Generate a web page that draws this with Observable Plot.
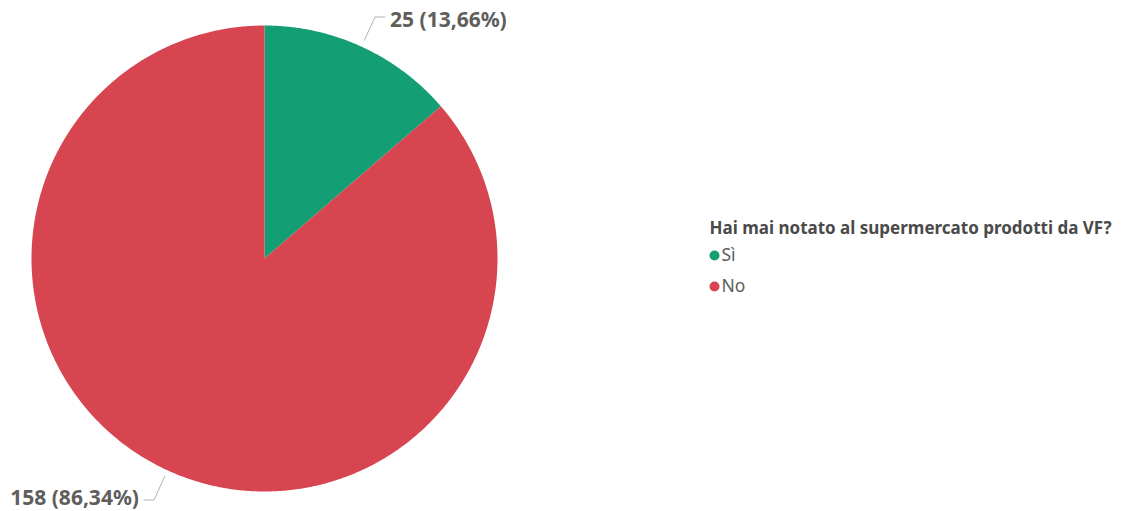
<!DOCTYPE html>
<html>
<head>
<meta charset="utf-8">
<script src="https://cdn.jsdelivr.net/npm/d3@7"></script>
<script src="https://cdn.jsdelivr.net/npm/@observablehq/plot@0.6"></script>
<style>
  html, body { margin: 0; padding: 0; background: #ffffff; }
  #chart { width: 1122px; height: 511px; }
</style>
</head>
<body>
<div id="chart"></div>
<script>
// ---- data ----
const categories = ["Sì", "No"];
const counts = [25, 158];
const colors = ["#139E73", "#D64550"];
const legendTitle = "Hai mai notato al supermercato prodotti da VF?";

// ---- derived ----
const total = d3.sum(counts);
const rows = categories.map((c, i) => ({ cat: c, value: counts[i] }));
const arcs = d3.pie().sort(null).value(d => d.value)(rows);

const fmtPct = v => (v * 100).toFixed(2).replace(".", ",") + "%";

// slice outlines (unit radius, angle 0 at top, clockwise)
const slicePts = [];
arcs.forEach(a => {
  const n = Math.max(2, Math.ceil((a.endAngle - a.startAngle) / (Math.PI / 360)));
  slicePts.push({ cat: a.data.cat, x: 0, y: 0 });
  for (let i = 0; i <= n; i++) {
    const t = a.startAngle + (i / n) * (a.endAngle - a.startAngle);
    slicePts.push({ cat: a.data.cat, x: Math.sin(t), y: Math.cos(t) });
  }
  slicePts.push({ cat: a.data.cat, x: 0, y: 0 });
});

// leader lines and labels
const R = 233; // pixel radius, used to convert the horizontal stub length
const leaderPts = [];
const labels = [];
arcs.forEach(a => {
  const m = (a.startAngle + a.endAngle) / 2;
  const side = Math.sin(m) >= 0 ? 1 : -1;
  const p1 = { x: 1.03 * Math.sin(m), y: 1.03 * Math.cos(m) };
  const p2 = { x: 1.14 * Math.sin(m), y: 1.14 * Math.cos(m) };
  const p3 = { x: p2.x + side * 10 / R, y: p2.y };
  [p1, p2, p3].forEach(p => leaderPts.push({ cat: a.data.cat, ...p }));
  labels.push({
    cat: a.data.cat,
    x: p3.x, y: p3.y, side,
    text: `${a.data.value} (${fmtPct(a.data.value / total)})`
  });
});

const font = "'Noto Sans', 'Open Sans', sans-serif";

const legendMarks = categories.map((c, i) => [
  Plot.dot([c], { frameAnchor: "top-left", dx: 714, dy: 255 + i * 31, fill: d => d, r: 5, stroke: "none" }),
  Plot.text([c], { frameAnchor: "top-left", dx: 721, dy: 255 + i * 31, text: d => d,
    textAnchor: "start", lineAnchor: "middle", fontSize: 17.5, fill: "#605E5C" })
]).flat();

const chart = Plot.plot({
  width: 1122,
  height: 511,
  margin: 0,
  style: { fontFamily: font, background: "#ffffff", overflow: "visible" },
  x: { domain: [-1, 1], range: [31, 497], axis: null },
  y: { domain: [1, -1], range: [25, 491], axis: null },
  color: { domain: categories, range: colors },
  marks: [
    Plot.line(slicePts, { x: "x", y: "y", z: "cat", fill: "cat", stroke: "none" }),
    Plot.line(leaderPts, { x: "x", y: "y", z: "cat", stroke: "#b3b3b3", strokeWidth: 1 }),
    Plot.text(labels.filter(d => d.side > 0), {
      x: "x", y: "y", text: "text", textAnchor: "start", lineAnchor: "middle", dx: 5, dy: 3,
      fontSize: 21, fontWeight: "bold", fill: "#605E5C"
    }),
    Plot.text(labels.filter(d => d.side < 0), {
      x: "x", y: "y", text: "text", textAnchor: "end", lineAnchor: "middle", dx: -5, dy: -2,
      fontSize: 21, fontWeight: "bold", fill: "#605E5C"
    }),
    Plot.text([legendTitle], {
      frameAnchor: "top-left", dx: 709, dy: 228, text: d => d,
      textAnchor: "start", lineAnchor: "middle", fontSize: 17, fontWeight: "bold", fill: "#4a4a4a"
    }),
    ...legendMarks
  ]
});

document.getElementById("chart").appendChild(chart);
</script>
</body>
</html>
